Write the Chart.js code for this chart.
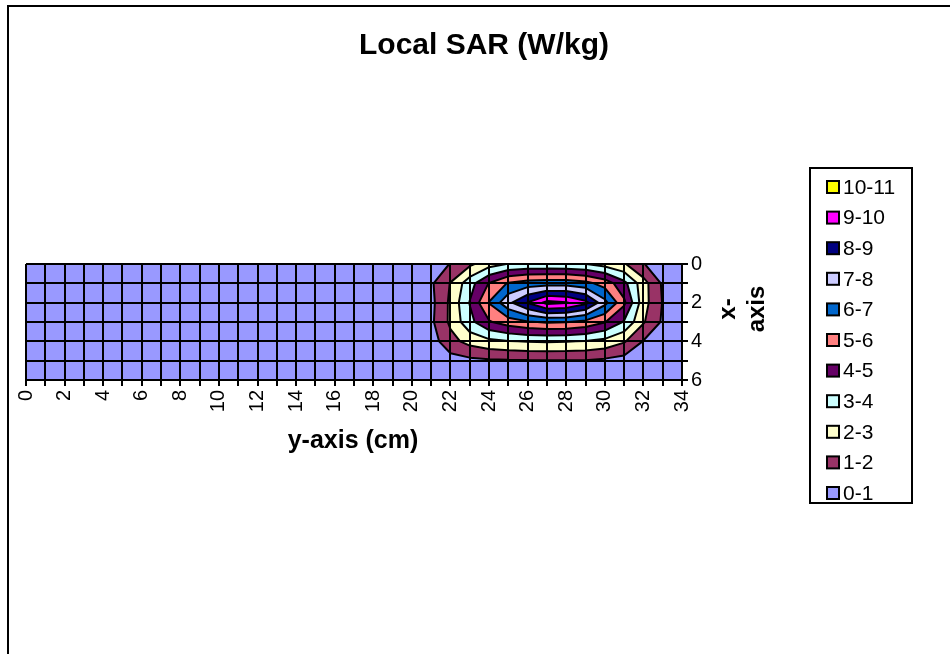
<!DOCTYPE html>
<html>
<head>
<meta charset="utf-8">
<title>Local SAR (W/kg)</title>
<script src="https://cdn.jsdelivr.net/npm/chart.js@4.4.1/dist/chart.umd.min.js"></script>
<style>
  html, body { margin: 0; padding: 0; background: #ffffff; }
  canvas { display: block; }
</style>
</head>
<body>
<canvas id="sar" width="950" height="654"></canvas>
<script>
// Grid node positions (cm)
const yAxisCm = [0,1,2,3,4,5,6,7,8,9,10,11,12,13,14,15,16,17,18,19,20,21,22,23,24,25,26,27,28,29,30,31,32,33,34];
const xAxisCm = [0,1,2,3,4,5,6];

// Local SAR (W/kg) at each node, one list per x row
const sarX0 = [0.02,0.02,0.02,0.02,0.03,0.03,0.03,0.03,0.04,0.04,0.04,0.05,0.05,0.05,0.06,0.06,0.07,0.07,0.08,0.09,
               0.12,0.45,1.04,1.8,2.6,3.05,3.2,3.2,3.15,3.02,2.6,2.1,1.05,0.4,0.12];
const sarX1 = [0.03,0.03,0.03,0.03,0.04,0.04,0.04,0.05,0.05,0.05,0.06,0.06,0.07,0.07,0.08,0.09,0.1,0.12,0.14,0.18,
               0.3,0.85,2.05,3.6,5.05,6.1,6.5,6.6,6.6,6.3,5.6,4.3,2.4,0.85,0.3];
const sarX2 = [0.03,0.03,0.03,0.04,0.04,0.04,0.05,0.05,0.05,0.06,0.06,0.07,0.07,0.08,0.09,0.1,0.11,0.13,0.15,0.2,
               0.3,0.72,2.2,4.05,6.05,7.75,9.05,10.3,10.09,9.3,7.3,5.2,2.4,0.95,0.4];
const sarX3 = [0.03,0.03,0.03,0.03,0.04,0.04,0.04,0.05,0.05,0.05,0.06,0.06,0.07,0.07,0.08,0.09,0.1,0.12,0.14,0.18,
               0.3,0.8,2.2,3.7,4.9,5.5,5.9,6.1,6.05,5.7,5.05,3.9,2.1,0.85,0.3];
const sarX4 = [0.02,0.02,0.02,0.02,0.03,0.03,0.03,0.03,0.04,0.04,0.04,0.05,0.05,0.05,0.06,0.06,0.07,0.08,0.09,0.12,
               0.2,0.55,1.65,2.35,2.75,2.95,3.05,3.1,3.05,2.95,2.7,2.1,0.95,0.35,0.1];
const sarX5 = [0.01,0.01,0.01,0.01,0.02,0.02,0.02,0.02,0.02,0.03,0.03,0.03,0.03,0.04,0.04,0.04,0.05,0.05,0.06,0.07,
               0.1,0.3,0.6,0.75,0.85,0.9,0.93,0.95,0.96,0.95,0.8,0.6,0.3,0.1,0.05];
const sarX6 = [0.01,0.01,0.01,0.01,0.01,0.01,0.01,0.01,0.01,0.01,0.02,0.02,0.02,0.02,0.02,0.02,0.03,0.03,0.03,0.04,
               0.05,0.1,0.15,0.2,0.25,0.3,0.3,0.3,0.3,0.3,0.25,0.2,0.1,0.05,0.02];

// Contour bands (W/kg)
const bandLower  = [0,1,2,3,4,5,6,7,8,9,10];
const bandLabels = ['0-1','1-2','2-3','3-4','4-5','5-6','6-7','7-8','8-9','9-10','10-11'];

// Tick labels shown on the two axes
const yAxisTickLabels = ['0','2','4','6','8','10','12','14','16','18','20','22','24','26','28','30','32','34'];
const xAxisTickLabels = ['0','2','4','6'];

// Band fill colours
const bandColors = ['#9999FF','#993366','#FFFFCC','#CCFFFF','#660066','#FF8080',
                    '#0066CC','#CCCCFF','#000080','#FF00FF','#FFFF00'];

const FONT = '"Liberation Sans", Arial, Helvetica, sans-serif';
const sarGrid = [sarX0, sarX1, sarX2, sarX3, sarX4, sarX5, sarX6];

// Filled contour bands: each level's region {v >= level} is clipped cell by cell
// with linear interpolation along the cell edges, then the boundaries are stroked.
const contourPlugin = {
  id: 'contourBands',
  beforeDatasetsDraw(chart) {
    const {ctx, chartArea} = chart;
    const xs = chart.scales.x, ys = chart.scales.y;
    const px = (j) => xs.getPixelForValue(j);
    const py = (i) => ys.getPixelForValue(i);
    const nRow = xAxisCm.length, nCol = yAxisCm.length;

    ctx.save();
    ctx.beginPath();
    ctx.rect(chartArea.left, chartArea.top, chartArea.right - chartArea.left, chartArea.bottom - chartArea.top);
    ctx.clip();

    ctx.fillStyle = bandColors[0];
    ctx.fillRect(chartArea.left, chartArea.top, chartArea.right - chartArea.left, chartArea.bottom - chartArea.top);

    const linePaths = [];
    for (let b = 1; b < bandLower.length; b++) {
      const L = bandLower[b];
      const fill = new Path2D();
      const line = new Path2D();
      for (let i = 0; i < nRow - 1; i++) {
        for (let j = 0; j < nCol - 1; j++) {
          const c = [[yAxisCm[j], xAxisCm[i]], [yAxisCm[j + 1], xAxisCm[i]],
                     [yAxisCm[j + 1], xAxisCm[i + 1]], [yAxisCm[j], xAxisCm[i + 1]]];
          const v = [sarGrid[i][j], sarGrid[i][j + 1], sarGrid[i + 1][j + 1], sarGrid[i + 1][j]];
          if (v.every(val => val < L)) continue;
          const pts = [], cross = [];
          for (let k = 0; k < 4; k++) {
            const a = c[k], bb = c[(k + 1) % 4], va = v[k], vb = v[(k + 1) % 4];
            if (va >= L) { pts.push(a); cross.push(false); }
            if ((va >= L) !== (vb >= L)) {
              const t = (L - va) / (vb - va);
              pts.push([a[0] + t * (bb[0] - a[0]), a[1] + t * (bb[1] - a[1])]);
              cross.push(true);
            }
          }
          fill.moveTo(px(pts[0][0]), py(pts[0][1]));
          for (let k = 1; k < pts.length; k++) fill.lineTo(px(pts[k][0]), py(pts[k][1]));
          fill.closePath();
          for (let k = 0; k < pts.length; k++) {
            const n = (k + 1) % pts.length;
            if (cross[k] && cross[n]) {
              line.moveTo(px(pts[k][0]), py(pts[k][1]));
              line.lineTo(px(pts[n][0]), py(pts[n][1]));
            }
          }
        }
      }
      ctx.fillStyle = bandColors[b];
      ctx.fill(fill);
      linePaths.push(line);
    }
    ctx.strokeStyle = '#000000';
    ctx.lineWidth = 2;
    ctx.lineJoin = 'round';
    ctx.lineCap = 'round';
    linePaths.forEach(p => ctx.stroke(p));
    ctx.restore();
  }
};

// Outer frame, title, axis titles and the band legend
const decorPlugin = {
  id: 'decor',
  beforeDraw(chart) {
    const ctx = chart.ctx;
    ctx.save();
    ctx.fillStyle = '#ffffff';
    ctx.fillRect(0, 0, chart.width, chart.height);
    ctx.strokeStyle = '#000000';
    ctx.lineWidth = 2;
    ctx.beginPath();
    ctx.moveTo(8, chart.height);
    ctx.lineTo(8, 6);
    ctx.lineTo(chart.width, 6);
    ctx.stroke();
    ctx.restore();
  },
  afterDraw(chart) {
    const ctx = chart.ctx;
    ctx.save();
    ctx.fillStyle = '#000000';
    ctx.textAlign = 'center';
    ctx.textBaseline = 'middle';

    ctx.font = 'bold 30px ' + FONT;
    ctx.fillText('Local SAR (W/kg)', 484, 46);

    ctx.font = 'bold 25px ' + FONT;
    ctx.fillText('y-axis (cm)', 353, 441);

    ctx.font = 'bold 24px ' + FONT;
    const xTitle = ['x-', 'axis'];
    const xTitleX = [728, 757];
    xTitle.forEach((t, k) => {
      ctx.save();
      ctx.translate(xTitleX[k], 309);
      ctx.rotate(-Math.PI / 2);
      ctx.fillText(t, 0, 0);
      ctx.restore();
    });

    // legend box
    ctx.lineWidth = 2;
    ctx.strokeStyle = '#000000';
    ctx.fillStyle = '#ffffff';
    ctx.fillRect(810, 168, 102, 335);
    ctx.strokeRect(810, 168, 102, 335);
    ctx.font = '21px ' + FONT;
    ctx.textAlign = 'left';
    const n = bandLabels.length;
    for (let k = 0; k < n; k++) {
      const b = n - 1 - k;
      const cy = 187 + k * 30.6;
      ctx.fillStyle = bandColors[b];
      ctx.fillRect(827, cy - 6, 12, 12);
      ctx.strokeRect(827, cy - 6, 12, 12);
      ctx.fillStyle = '#000000';
      ctx.fillText(bandLabels[b], 843, cy + 1);
    }
    ctx.restore();
  }
};

const tickFont = { family: FONT, size: 20 };

new Chart(document.getElementById('sar'), {
  type: 'scatter',
  data: { datasets: [] },
  options: {
    responsive: false,
    animation: false,
    devicePixelRatio: 1,
    layout: { padding: { left: 26, top: 264, right: 208, bottom: 214 } },
    plugins: {
      legend: { display: false },
      tooltip: { enabled: false },
      title: { display: false }
    },
    scales: {
      x: {
        type: 'linear',
        position: 'bottom',
        min: yAxisCm[0],
        max: yAxisCm[yAxisCm.length - 1],
        afterFit(s) { s.height = 60; },
        grid: { color: '#000000', lineWidth: 2, z: 1, drawTicks: true, tickLength: 6, tickColor: '#000000', tickWidth: 2 },
        border: { display: true, color: '#000000', width: 2, z: 1 },
        ticks: {
          stepSize: 1, autoSkip: false, minRotation: 90, maxRotation: 90, padding: 4,
          color: '#000000', font: tickFont,
          callback: (v) => yAxisTickLabels.includes(String(v)) ? String(v) : ''
        }
      },
      y: {
        type: 'linear',
        position: 'right',
        reverse: true,
        min: xAxisCm[0],
        max: xAxisCm[xAxisCm.length - 1],
        afterFit(s) { s.width = 60; },
        grid: { color: '#000000', lineWidth: 2, z: 1, drawTicks: true, tickLength: 6, tickColor: '#000000', tickWidth: 2 },
        border: { display: true, color: '#000000', width: 2, z: 1 },
        ticks: {
          stepSize: 1, autoSkip: false, padding: 3,
          color: '#000000', font: tickFont,
          callback: (v) => xAxisTickLabels.includes(String(v)) ? String(v) : ''
        }
      }
    }
  },
  plugins: [decorPlugin, contourPlugin]
});
</script>
</body>
</html>
